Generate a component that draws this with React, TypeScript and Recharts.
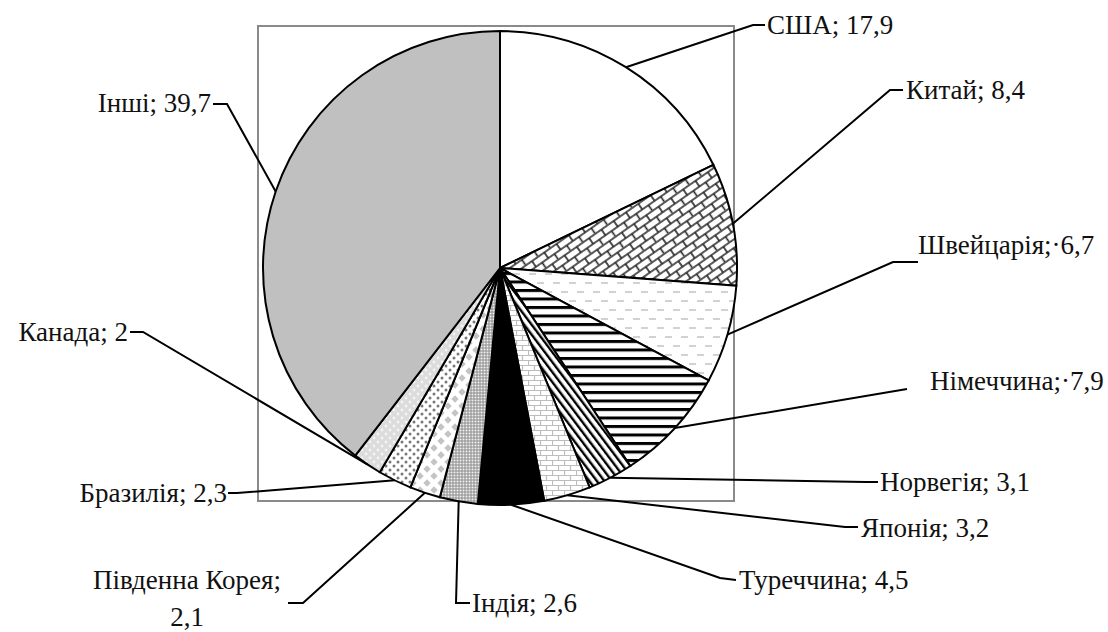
import { PieChart, Pie, Cell } from "recharts";

const countries = [
  "США",
  "Китай",
  "Швейцарія",
  "Німеччина",
  "Норвегія",
  "Японія",
  "Туреччина",
  "Індія",
  "Південна Корея",
  "Бразилія",
  "Канада",
  "Інші",
];
const shares = [17.9, 8.4, 6.7, 7.9, 3.1, 3.2, 4.5, 2.6, 2.1, 2.3, 2, 39.7];
const labelLines = [
  ["США; 17,9"],
  ["Китай; 8,4"],
  ["Швейцарія;·6,7"],
  ["Німеччина;·7,9"],
  ["Норвегія; 3,1"],
  ["Японія; 3,2"],
  ["Туреччина; 4,5"],
  ["Індія; 2,6"],
  ["Південна Корея;", "2,1"],
  ["Бразилія; 2,3"],
  ["Канада; 2"],
  ["Інші; 39,7"],
];

// fills per slice (patterns defined below)
const fills = [
  "#ffffff",
  "url(#p-china)",
  "url(#p-swiss)",
  "url(#p-germany)",
  "url(#p-norway)",
  "url(#p-japan)",
  "#000000",
  "url(#p-india)",
  "url(#p-korea)",
  "url(#p-brazil)",
  "url(#p-canada)",
  "#c0c0c0",
];

// leader knee, leader end, text anchor point and alignment
type Place = { knee: [number, number]; end: [number, number]; tx: number; ty: number; anchor: "start" | "end" | "middle" };
const placement: Place[] = [
  { knee: [753, 25], end: [765, 25], tx: 767, ty: 25, anchor: "start" },
  { knee: [890, 90], end: [903, 90], tx: 906, ty: 90, anchor: "start" },
  { knee: [893, 262], end: [918, 262], tx: 918, ty: 245, anchor: "start" },
  { knee: [907, 389], end: [907, 389], tx: 930, ty: 381, anchor: "start" },
  { knee: [866, 482], end: [878, 482], tx: 880, ty: 482, anchor: "start" },
  { knee: [845, 527], end: [858, 527], tx: 861, ty: 528, anchor: "start" },
  { knee: [720, 578], end: [736, 580], tx: 739, ty: 580, anchor: "start" },
  { knee: [456, 603], end: [470, 603], tx: 472, ty: 603, anchor: "start" },
  { knee: [303, 603], end: [288, 603], tx: 187, ty: 580, anchor: "middle" },
  { knee: [237, 493], end: [228, 493], tx: 227, ty: 493, anchor: "end" },
  { knee: [143, 332], end: [130, 332], tx: 128, ty: 332, anchor: "end" },
  { knee: [227, 104], end: [213, 104], tx: 211, ty: 103, anchor: "end" },
];

const rows = countries.map((name, i) => ({ name, value: shares[i] }));
const RAD = Math.PI / 180;
const FONT = "'Liberation Serif', 'DejaVu Serif', serif";

function renderLabel(props: any) {
  const { cx, cy, midAngle, outerRadius, index } = props;
  const p = placement[index];
  const sx = cx + outerRadius * Math.cos(-midAngle * RAD);
  const sy = cy + outerRadius * Math.sin(-midAngle * RAD);
  const lines = labelLines[index];
  return (
    <g key={`lbl-${index}`}>
      <polyline
        points={`${sx},${sy} ${p.knee[0]},${p.knee[1]} ${p.end[0]},${p.end[1]}`}
        fill="none"
        stroke="#000"
        strokeWidth={2}
      />
      <text
        x={p.tx}
        y={p.ty}
        textAnchor={p.anchor}
        dominantBaseline="central"
        style={{ fontFamily: FONT, fontSize: 27, fill: "#111" }}
      >
        {lines.map((t, k) => (
          <tspan key={k} x={p.tx} dy={k === 0 ? 0 : 37}>
            {t}
          </tspan>
        ))}
      </text>
    </g>
  );
}

function Patterns() {
  return (
    <svg width={0} height={0} style={{ position: "absolute" }}>
      <defs>
        <pattern id="p-china" width={15} height={14} patternUnits="userSpaceOnUse" patternTransform="rotate(-35)">
          <rect width={15} height={14} fill="#fff" />
          <path d="M0 1H15M0 8H15M1 1V8M8.5 8V15" stroke="#222" strokeWidth={1.6} fill="none" />
        </pattern>
        <pattern id="p-swiss" width={16} height={18} patternUnits="userSpaceOnUse">
          <rect width={16} height={18} fill="#fff" />
          <path d="M1 4H8M9 13H16" stroke="#c4c4c4" strokeWidth={1.6} />
        </pattern>
        <pattern id="p-germany" width={8} height={8.5} patternUnits="userSpaceOnUse">
          <rect width={8} height={8.5} fill="#fff" />
          <rect y={0} width={8} height={3} fill="#000" />
        </pattern>
        <pattern id="p-norway" width={6} height={8} patternUnits="userSpaceOnUse" patternTransform="rotate(-37)">
          <rect width={6} height={8} fill="#fff" />
          <rect x={0} width={2.4} height={8} fill="#000" />
        </pattern>
        <pattern id="p-japan" width={12} height={10} patternUnits="userSpaceOnUse">
          <rect width={12} height={10} fill="#fff" />
          <path d="M0 0.5H12M0 5.5H12M0.5 0.5V5.5M6.5 5.5V10.5" stroke="#bdbdbd" strokeWidth={1.2} fill="none" />
        </pattern>
        <pattern id="p-india" width={3} height={3} patternUnits="userSpaceOnUse">
          <rect width={3} height={3} fill="#8c8c8c" />
          <rect x={0.5} y={0.5} width={2} height={2} fill="#f2f2f2" />
        </pattern>
        <pattern id="p-korea" width={14} height={14} patternUnits="userSpaceOnUse">
          <rect width={14} height={14} fill="#fff" />
          <path d="M7 3.3L10.7 7L7 10.7L3.3 7Z" fill="#c4c4c4" />
          <path d="M0 -3.7L3.7 0L0 3.7L-3.7 0Z M14 -3.7L17.7 0L14 3.7L10.3 0Z M0 10.3L3.7 14L0 17.7L-3.7 14Z M14 10.3L17.7 14L14 17.7L10.3 14Z" fill="#c4c4c4" />
        </pattern>
        <pattern id="p-brazil" width={8} height={8} patternUnits="userSpaceOnUse">
          <rect width={8} height={8} fill="#fff" />
          <circle cx={2} cy={2} r={1.5} fill="#7a7a7a" />
          <circle cx={6} cy={6} r={1.5} fill="#7a7a7a" />
        </pattern>
        <pattern id="p-canada" width={8} height={8} patternUnits="userSpaceOnUse">
          <rect width={8} height={8} fill="#dcdcdc" />
          <circle cx={2} cy={2} r={1.4} fill="#f4f4f4" />
          <circle cx={6} cy={6} r={1.4} fill="#f4f4f4" />
        </pattern>
      </defs>
    </svg>
  );
}

export default function App() {
  return (
    <div style={{ position: "absolute", left: 0, top: 0, width: 1108, height: 632, background: "#fff" }}>
      <Patterns />
      {/* grey frame behind the pie */}
      <div
        style={{
          position: "absolute",
          left: 257,
          top: 25,
          width: 474,
          height: 473,
          border: "2px solid #8a8a8a",
        }}
      />
      <div style={{ position: "absolute", left: 0, top: 0 }}>
        <PieChart width={1108} height={632}>
          <Pie
            data={rows}
            dataKey="value"
            nameKey="name"
            cx={495}
            cy={263}
            outerRadius={237}
            startAngle={90}
            endAngle={-270}
            stroke="#000"
            strokeWidth={2}
            label={renderLabel}
            labelLine={false}
            isAnimationActive={false}
          >
            {rows.map((r, i) => (
              <Cell key={r.name} fill={fills[i]} stroke="#000" strokeWidth={2} />
            ))}
          </Pie>
        </PieChart>
      </div>
    </div>
  );
}
